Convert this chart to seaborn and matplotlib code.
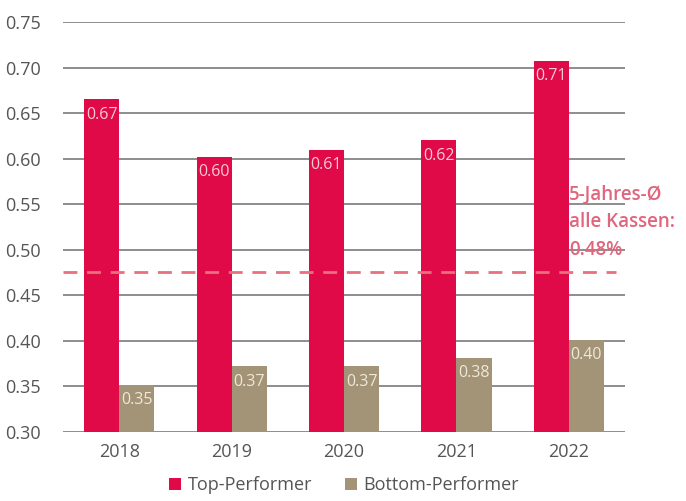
import matplotlib
matplotlib.use("Agg")
import matplotlib.pyplot as plt
import seaborn as sns
import pandas as pd

years = ["2018", "2019", "2020", "2021", "2022"]
top_values = [0.665, 0.602, 0.610, 0.620, 0.707]
bottom_values = [0.352, 0.372, 0.372, 0.381, 0.401]
top_labels = ["0.67", "0.60", "0.61", "0.62", "0.71"]
bottom_labels = ["0.35", "0.37", "0.37", "0.38", "0.40"]
series = ["Top-Performer", "Bottom-Performer"]
avg_value = 0.475
avg_text = "5-Jahres-Ø\nalle Kassen:\n0.48%"
yticks = [0.30, 0.35, 0.40, 0.45, 0.50, 0.55, 0.60, 0.65, 0.70, 0.75]

df = pd.DataFrame({
    "year": years * 2,
    "value": top_values + bottom_values,
    "series": [series[0]] * len(years) + [series[1]] * len(years),
})

sns.set_style("white")
plt.rcParams["font.family"] = ["Open Sans", "DejaVu Sans"]

RED = "#e10a48"
TAN = "#a39377"
GRID = "#7a7a7a"
TXT = "#555555"

fig = plt.figure(figsize=(6.86, 5.01), dpi=100)
ax = fig.add_axes([0.092, 0.138, 0.819, 0.818])

sns.barplot(data=df, x="year", y="value", hue="series", order=years,
            hue_order=series, palette=[RED, TAN], width=0.625,
            saturation=1, ax=ax, legend=True, zorder=3, linewidth=0)

ax.set_ylim(0.30, 0.75)
ax.set_xlim(-0.5, 4.5)
ax.set_yticks(yticks)
ax.set_yticklabels([f"{t:.2f}" for t in yticks])
ax.yaxis.grid(True, color=GRID, linewidth=1.2, zorder=0)
ax.set_axisbelow(True)
for s in ax.spines.values():
    s.set_visible(False)
ax.tick_params(axis="both", length=0, labelsize=13, colors=TXT, pad=8)
ax.tick_params(axis="y", pad=16)
ax.set_xlabel("")
ax.set_ylabel("")

# value labels inside top of bars
for cont, labs, col in zip(ax.containers, [top_labels, bottom_labels], ["#f6c9d4", "#efe9d8"]):
    for bar, lab in zip(cont, labs):
        ax.text(bar.get_x() + bar.get_width() / 2, bar.get_height() - 0.008, lab,
                ha="center", va="top", fontsize=11.5, color=col, zorder=5)

# average dashed line
ax.plot([-0.5, 4.42], [avg_value, avg_value], ls=(0, (5, 3.5)), color="#e8707f",
        lw=2, zorder=4, clip_on=False)
ax.text(4.0, 0.530, avg_text, ha="left", va="center", fontsize=13.5,
        fontweight="semibold", color="#e0667e", linespacing=1.5, zorder=6,
        clip_on=False)

leg = ax.legend(loc="upper center", bbox_to_anchor=(0.5, -0.078), ncol=2,
                frameon=False, fontsize=13, handlelength=0.7, handleheight=0.7,
                handletextpad=0.35, columnspacing=1.8, borderpad=0.2)
for t in leg.get_texts():
    t.set_color(TXT)

fig.savefig("out.png", dpi=100)
